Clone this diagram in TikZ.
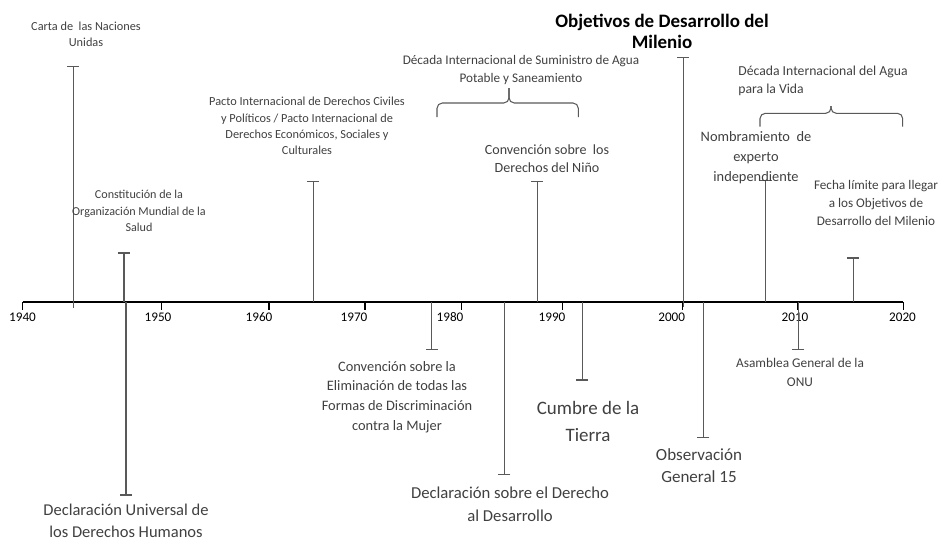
\documentclass[tikz,border=0pt]{standalone}
\usepackage{fontspec}
\setmainfont{Carlito}
\usetikzlibrary{arrows.meta}
\definecolor{ink}{HTML}{404040}
\definecolor{stemgray}{HTML}{595959}

\begin{document}
\begin{tikzpicture}[x=0.02cm, y=-0.02cm,
    lbl/.style 2 args={align=center, inner sep=0pt, text=ink, font=\fontsize{#1}{#2}\selectfont},
    stem/.style={stemgray, line width=0.7pt, -{Bar[width=7pt, line width=0.7pt]}},
    axisline/.style={black, line width=0.8pt},
    brace/.style={stemgray, line width=0.6pt, rounded corners=3pt}]
    \useasboundingbox (0,0) rectangle (942,539);

    % Time axis with decades
    \draw[axisline] (22.7,302) -- (903.3,302);
    \foreach \t/\l/\yr in {22.7/22.5/1940, 161.7/158/1950, 269/259/1960, 365/354/1970, 461.7/450/1980,
                           562.7/552/1990, 682.7/671.7/2000, 798/795/2010, 903.3/902.5/2020} {
        \draw[axisline] (\t,302) -- (\t,310);
        \node[lbl={7.5}{9}, text=black, anchor=base] (y\yr) at (\l,321.5) {\yr};
    }

    % Event stems
    \foreach \x/\ya/\yb in {73.3/308/65.7, 124/302/252.3, 126/302/495.7, 313.3/302/181,
                            431.7/302/350, 504.3/302/475, 537.3/302/181, 582.3/302/380.7,
                            683.3/307/57, 703.3/302/438.3, 765.7/302/180, 798.3/302/350,
                            853.3/302/257.3}
        \draw[stem] (\x,\ya) -- (\x,\yb);

    % Decade braces
    \draw[brace] (437,117) |- (509,103) -- (509,88);
    \draw[brace] (578.3,117) |- (509,103) -- (509,88);
    \draw[brace] (760,126.7) |- (831,113.3) -- (831,106);
    \draw[brace] (902.7,126.7) |- (831,113.3) -- (831,106);

    % Events above the axis
    \node[lbl={7}{9.1}] (carta) at (86,34) {Carta de\ \ las Naciones\\Unidas};
    \node[lbl={6.9}{9.4}] (oms) at (139,211) {Constitución de la\\Organización Mundial de la\\Salud};
    \node[lbl={7}{9.2}] (pacto) at (307,126) {Pacto Internacional de Derechos Civiles\\y Políticos / Pacto Internacional de\\Derechos Económicos, Sociales y\\Culturales};
    \node[lbl={7.5}{10.2}] (decagua) at (521,70) {Década Internacional de Suministro de Agua\\Potable y Saneamiento};
    \node[lbl={8}{10.4}] (nino) at (547,159) {Convención sobre\ \ los\\Derechos del Niño};
    \node[lbl={11}{11.9}, font=\fontsize{10.8}{11.9}\selectfont\bfseries, text=black] (odm) at (662,31.5) {Objetivos de Desarrollo del\\Milenio};
    \node[lbl={7.8}{10.5}, align=left, anchor=west] (decvida) at (738,81) {Década Internacional del Agua\\para la Vida};
    \node[lbl={8.2}{11.3}] (nombr) at (756,158) {Nombramiento\ \ de\\experto\\independiente};
    \node[lbl={7.5}{10.5}] (fecha) at (876,203) {Fecha límite para llegar\\a los Objetivos de\\Desarrollo del Milenio};

    % Events below the axis
    \node[lbl={9.4}{12.3}] (dudh) at (126,521) {Declaración Universal de\\los Derechos Humanos};
    \node[lbl={8.2}{11.3}] (cedaw) at (397,397) {Convención sobre la\\Eliminación de todas las\\Formas de Discriminación\\contra la Mujer};
    \node[lbl={9.5}{13}] (desarrollo) at (510,504.5) {Declaración sobre el Derecho\\al Desarrollo};
    \node[lbl={10.8}{15.3}] (cumbre) at (588,421.5) {Cumbre de la\\Tierra};
    \node[lbl={9.7}{12.9}] (obs) at (699,465.5) {Observación\\General 15};
    \node[lbl={7.6}{10.7}] (asamblea) at (800,372.5) {Asamblea General de la\\ONU};
\end{tikzpicture}
\end{document}
